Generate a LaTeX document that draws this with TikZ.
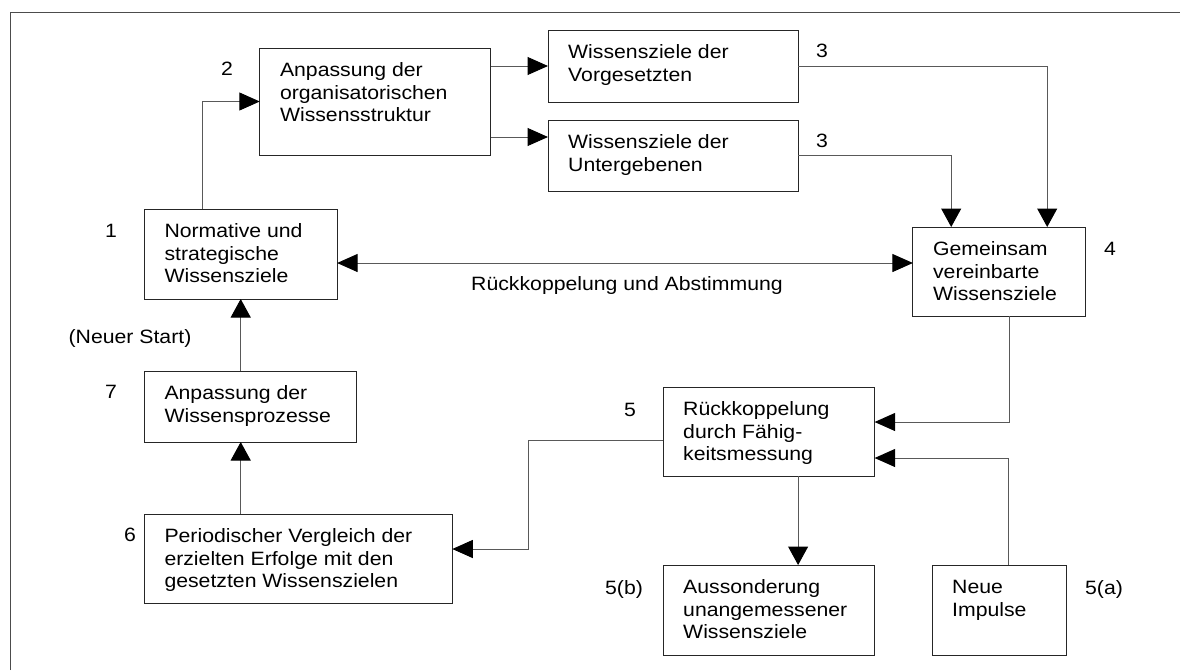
\documentclass[tikz,border=0pt]{standalone}
\usepackage{fontspec}
\setmainfont{Liberation Sans}[FakeStretch=1.1]
\usetikzlibrary{arrows.meta,calc}

\tikzset{
  box/.style={draw=black!85, line width=1pt, inner sep=0pt, outer sep=0pt, anchor=north west},
  boxtext/.style={inner sep=0pt, align=left, anchor=north west},
  lbl/.style={inner sep=0pt, anchor=base},
  htip/.tip={Triangle[length=20.5pt,width=18pt,color=black]},
  vtip/.tip={Triangle[length=18.5pt,width=20pt,color=black]},
  conn/.style={draw=black!65, line width=1pt},
  harr/.style={conn, -htip},
  varr/.style={conn, -vtip},
  arrboth/.style={conn, htip-htip},
}

% box with left-aligned text: name, x, y (top-left), width, height, text
\newcommand\wbox[6]{%
  \node[box, minimum width=#4pt, minimum height=#5pt] (#1) at (#2,#3) {};
  \node[boxtext] (#1t) at ([shift={(20pt,-12.8pt)}]#1.north west) {\strut #6};
}

\begin{document}
\begin{tikzpicture}[x=1pt, y=-1pt, font=\fontsize{19.3pt}{22.5pt}\selectfont]
\useasboundingbox (0,0) rectangle (1180,670);

% outer frame
\draw[black!70, line width=1pt] (10.3,670) -- (10.3,12) -- (1180,12);

% boxes
\wbox{b1}{144.3}{209}{192.8}{90}{Normative und\\strategische\\Wissensziele}
\wbox{b2}{259.8}{48}{230.8}{107}{Anpassung der\\organisatorischen\\Wissensstruktur}
\wbox{b3a}{548}{30}{250}{72}{Wissensziele der\\Vorgesetzten}
\wbox{b3b}{548}{120}{250}{71}{Wissensziele der\\Untergebenen}
\wbox{b4}{912.9}{227}{173}{89}{Gemeinsam\\vereinbarte\\Wissensziele}
\wbox{b5}{663}{387}{211.6}{89}{Rückkoppelung\\durch Fähig-\\keitsmessung}
\wbox{b5b}{663}{565}{211.6}{90}{Aussonderung\\unangemessener\\Wissensziele}
\wbox{b5a}{932}{565}{134.7}{90}{Neue\\Impulse}
\wbox{b6}{144.3}{514}{308}{89}{Periodischer Vergleich der\\erzielten Erfolge mit den\\gesetzten Wissenszielen}
\wbox{b7}{144.3}{371}{212}{71}{Anpassung der\\Wissensprozesse}

% step numbers and captions
\node[lbl] (n1) at (111,237) {1};
\node[lbl] (n2) at (227,75) {2};
\node[lbl] (n3a) at (822,57) {3};
\node[lbl] (n3b) at (822,147) {3};
\node[lbl] (n4) at (1110,255) {4};
\node[lbl] (n5) at (630,416) {5};
\node[lbl] (n5b) at (624,594) {5(b)};
\node[lbl] (n5a) at (1104,594) {5(a)};
\node[lbl] (n6) at (130,541) {6};
\node[lbl] (n7) at (111,398) {7};
\node[lbl] (ns) at (130,343) {(Neuer Start)};
\node[lbl] (fb) at (627,290) {Rückkoppelung und Abstimmung};

% connectors
\coordinate (in3b) at ([yshift=18.5pt]b3b.west);
\draw[harr] ([xshift=-38.3pt]b1.north) |- (b2.west);
\draw[harr] (b2.east |- b3a.west) -- (b3a.west);
\draw[harr] (b2.east |- in3b) -- (in3b);
\draw[varr] (b3a.east) -| ([xshift=47.8pt]b4.north);
\draw[varr] (b3b.east) -| ([xshift=-48.2pt]b4.north);
\coordinate (fb1) at ([yshift=-9pt]b1.east);
\draw[arrboth] (fb1) -- (fb1 -| b4.west);
\draw[harr] ([xshift=9.6pt]b4.south) |- ([yshift=9.5pt]b5.east);
\draw[harr] ([xshift=9.6pt]b5a.north) |- ([yshift=-26.5pt]b5.east);
\draw[varr] ([xshift=29.3pt]b5.south) -- ([xshift=29.3pt]b5.south |- b5b.north);
\draw[harr] ([yshift=-8.5pt]b5.west) -- ++(-134.2pt,0pt) |- ([yshift=9.5pt]b6.east);
\draw[varr] (b6.north -| b1.south) -- (b7.south -| b1.south);
\draw[varr] (b7.north -| b1.south) -- (b1.south);
\end{tikzpicture}
\end{document}
